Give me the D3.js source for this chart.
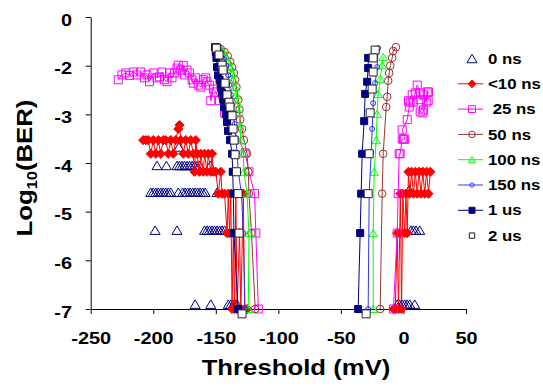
<!DOCTYPE html>
<html>
<head>
<meta charset="utf-8">
<script src="https://cdn.jsdelivr.net/npm/d3@7"></script>
<style>
body { margin: 0; background: #fff; }
text { font-family: Arial, "Liberation Sans", sans-serif; font-weight: bold; fill: #000; }
</style>
</head>
<body>
<div id="chart"></div>
<script>
// axis ticks
var xTicks = [-250, -200, -150, -100, -50, 0, 50];
var xTickLabels = ["-250", "-200", "-150", "-100", "-50", "0", "50"];
var yTicks = [-7, -6, -5, -4, -3, -2, -1];
var yTickLabels = ["-7", "-6", "-5", "-4", "-3", "-2", "0"];

var seriesNames = ["0 ns", "<10 ns", " 25 ns", "50 ns", "100 ns", "150 ns", "1 us", "2 us"];

// [threshold mV, log10 BER]  -- left and right branch of each curve
var ns0Left = [
  [-179.5, -3.67],
  [-197, -4.05], [-189.5, -4.05], [-181, -4.05], [-179, -4.05], [-177, -4.05], [-175, -4.05], [-173, -4.05],
  [-171, -4.05], [-169, -4.05], [-167, -4.05], [-165, -4.05], [-163, -4.05], [-154.5, -4.05],
  [-202, -4.6], [-200, -4.6], [-198, -4.6], [-196, -4.6], [-194, -4.6], [-192, -4.6], [-190, -4.6], [-188, -4.6],
  [-186, -4.6], [-180, -4.6], [-176.5, -4.6], [-174.5, -4.6], [-172.5, -4.6], [-170.5, -4.6], [-168.5, -4.6],
  [-166.5, -4.6], [-164.5, -4.6], [-162.5, -4.6], [-160.5, -4.6], [-158.5, -4.6], [-149, -4.6],
  [-198.5, -5.38], [-181, -5.38], [-159, -5.38], [-157, -5.38], [-155, -5.38], [-153, -5.38], [-151, -5.38],
  [-149, -5.38], [-147, -5.38], [-145, -5.38], [-143, -5.38],
  [-166.5, -6.9], [-154, -6.9], [-140, -6.9], [-138, -6.9], [-136, -6.9], [-134.5, -6.9], [-133, -6.9]
];
var ns0Right = [
  [4.6, -4.55], [6, -5.38], [8, -5.38], [10, -5.38], [13, -5.38],
  [-5, -6.9], [-3, -6.9], [-1, -6.9], [1, -6.9], [3, -6.9], [5, -6.9], [9, -6.9]
];

var lt10Left = [
  [-208, -3.53], [-206, -3.53], [-204, -3.53], [-202, -3.81], [-200, -3.53], [-198, -3.81], [-196, -3.53],
  [-194, -3.81], [-192, -3.53], [-190, -3.53], [-188, -3.81], [-186, -3.53], [-184, -3.81], [-182, -3.53],
  [-180, -3.3], [-179, -3.22], [-178, -3.53], [-176, -3.81], [-174, -3.53], [-172, -3.81], [-170, -3.53],
  [-168, -3.81], [-167, -4.18], [-166, -3.53], [-165, -3.81], [-163, -4.18], [-162, -3.81], [-160, -4.18],
  [-159, -3.81], [-157, -4.18], [-156, -3.81], [-154, -4.18], [-153, -3.81], [-152, -4.18], [-150, -4.18],
  [-148, -4.63], [-146, -4.18], [-145, -4.63], [-143, -4.63], [-141, -5.44], [-140, -4.63], [-139, -5.44],
  [-138, -4.63], [-137, -7], [-136, -5.44], [-135, -7], [-134, -4.63], [-133, -7], [-131, -5.44],
  [-130, -7], [-128, -4.63], [-127, -7], [-125, -7]
];
var lt10Right = [
  [-8, -7], [-6.5, -7], [-5, -5.44], [-4, -7], [-3, -5.44], [-2.5, -4.63], [-1.5, -7], [-0.5, -4.63],
  [1, -5.44], [2, -4.63], [3, -5.44], [4, -4.18], [5, -4.63], [6.5, -4.18], [8, -4.63], [9.5, -4.18],
  [11, -4.63], [12.5, -4.18], [14, -4.63], [15.5, -4.18], [17, -4.63], [18.5, -4.18], [20, -4.63], [21.5, -4.18]
];

var ns25Left = [
  [-228, -2.29], [-225, -2.19], [-222, -2.15], [-219, -2.2], [-216, -2.13], [-213, -2.19], [-210, -2.13],
  [-207, -2.25], [-205, -2.19], [-203, -2.33], [-200, -2.15], [-197, -2.25], [-195, -2.23], [-193, -2.13],
  [-191, -2.29], [-189, -2.33], [-187, -2.15], [-185, -2.25], [-183, -2.15], [-181, -2.05], [-180, -1.99],
  [-178, -2.09], [-176, -2.0], [-175, -2.19], [-173, -2.09], [-171, -2.15], [-169, -2.29], [-168, -2.36],
  [-166, -2.25], [-164, -2.4], [-162, -2.44], [-160, -2.29], [-158, -2.25], [-157, -2.33], [-155, -2.4],
  [-154, -2.72], [-152, -2.48], [-150, -2.54], [-147, -2.72], [-143, -2.97],
  [-126.5, -3.79], [-123.5, -4.18], [-119, -4.63], [-118, -5.44], [-116, -7]
];
var ns25Right = [
  [-8, -7], [-5, -5.44], [-4.2, -4.63], [-3.4, -3.81], [-2.6, -3.81], [-1, -3.51], [0, -3.51], [1, -3.51],
  [-1, -3.32], [3, -3.11], [4.6, -2.85], [5.4, -2.75], [4, -2.72], [7, -2.6], [7.8, -2.75], [9.4, -2.56],
  [11, -2.4], [13.4, -2.56], [13.4, -2.7], [15.8, -2.6], [18.2, -2.75], [19, -2.54], [19.8, -2.72],
  [16, -2.91], [15.5, -2.97], [13.4, -2.95], [20, -2.54]
];

var ns50Left = [
  [-148, -1.62], [-146, -1.66], [-143, -1.72], [-140.5, -1.8], [-138.5, -1.92], [-137, -2.03], [-135.5, -2.15],
  [-134.5, -2.29], [-133.5, -2.44], [-132, -2.7], [-131, -2.9], [-130.5, -3.11], [-129, -3.3], [-127.5, -3.53],
  [-125, -3.81], [-124, -4.18], [-123.5, -4.63], [-121.5, -5.44], [-118.5, -7]
];
var ns50Right = [
  [-6, -1.62], [-8.2, -1.7], [-9, -1.84], [-10.5, -2.0], [-11.4, -2.15], [-12.2, -2.31], [-13, -2.64],
  [-13.8, -2.85], [-16.2, -3.81], [-17, -4.63], [-18.6, -7]
];

var ns100Left = [
  [-147, -1.64], [-144.5, -1.7], [-142, -1.8], [-140, -1.9], [-138.5, -2.03], [-137, -2.15], [-136, -2.29],
  [-134.6, -2.44], [-133.5, -2.6], [-132.5, -2.78], [-131.5, -2.95], [-130.6, -3.24], [-130, -3.53],
  [-128, -3.81], [-127.5, -4.18], [-125, -4.63], [-123.5, -5.44], [-124, -7]
];
var ns100Right = [
  [-16.2, -1.82], [-17, -1.99], [-18.6, -2.27], [-20.2, -2.58], [-21, -2.99], [-21.8, -3.53],
  [-23.4, -4.18], [-24.2, -5.44], [-24.2, -7]
];

var ns150Left = [
  [-148, -1.64], [-146, -1.72], [-143.5, -1.86], [-141.5, -2.0], [-140, -2.2], [-139, -2.4], [-138, -2.6],
  [-137, -2.8], [-136.2, -2.97], [-135, -3.2], [-134, -3.5], [-133, -3.79], [-132, -4.18], [-129.5, -4.63],
  [-128, -5.44], [-126.6, -7]
];
var ns150Right = [
  [-20.2, -1.64], [-21, -2.03], [-22.6, -2.36], [-24.2, -2.77], [-25, -3.3], [-25.8, -3.79], [-27.4, -4.63], [-28.2, -7]
];

var us1Left = [
  [-150.6, -1.62], [-150, -1.72], [-149.5, -1.84], [-149, -2.03], [-148.2, -2.2], [-147, -2.29], [-146, -2.44],
  [-145, -2.56], [-144, -2.7], [-143.4, -2.85], [-142, -3.0], [-141, -3.16], [-140.2, -3.34], [-138.6, -3.53],
  [-137, -3.81], [-136.5, -4.18], [-136, -4.63], [-135.5, -5.44], [-132.2, -7]
];
var us1Right = [
  [-28.2, -1.84], [-28.2, -2.05], [-29, -2.33], [-30.6, -2.58], [-31.4, -3.14], [-33, -3.81], [-33.8, -4.63],
  [-34.6, -5.44], [-36.2, -7]
];

var us2Left = [
  [-149.6, -1.64], [-147.4, -1.78], [-145, -1.99], [-144.2, -2.09], [-142.6, -2.36], [-141, -2.6], [-139.4, -2.75],
  [-138.6, -2.85], [-137, -3.03], [-136.2, -3.3], [-135.4, -3.53], [-134.6, -3.83], [-133.5, -4.18],
  [-132.2, -4.63], [-131.4, -5.44], [-129, -7.1]
];
var us2Right = [
  [-22.6, -1.68], [-24.2, -1.84], [-24.2, -2.13], [-25, -2.48], [-26.6, -2.97], [-27.4, -3.81], [-28.2, -4.63], [-29.8, -7.1]
];

var width = 543;
var height = 386;
var sx = 1.17; // text in the original is stretched sideways

var series = [
  {name: seriesNames[0], parts: [ns0Left, ns0Right], color: "#000080", marker: "triangle", size: 5, fill: "none", line: false},
  {name: seriesNames[1], parts: [lt10Left, lt10Right], color: "#FF0000", marker: "diamond", size: 4.6, fill: "#FF0000", line: true},
  {name: seriesNames[2], parts: [ns25Left, ns25Right], color: "#FF00FF", marker: "square", size: 4, fill: "none", line: true},
  {name: seriesNames[3], parts: [ns50Left, ns50Right], color: "#993333", marker: "circle", size: 3.8, fill: "none", line: true},
  {name: seriesNames[4], parts: [ns100Left, ns100Right], color: "#00FF00", marker: "triangle", size: 4.2, fill: "none", line: true},
  {name: seriesNames[5], parts: [ns150Left, ns150Right], color: "#3333FF", marker: "circle", size: 2.5, fill: "none", line: true},
  {name: seriesNames[6], parts: [us1Left, us1Right], color: "#000080", marker: "square", size: 3.5, fill: "#000080", line: true},
  {name: seriesNames[7], parts: [us2Left, us2Right], color: "#222222", marker: "square", size: 4, fill: "#ffffff", line: false}
];

function markerPath(type, s) {
  if (type == "triangle") {
    var h = s * 0.85;
    return "M0," + (-h) + "L" + s + "," + h + "L" + (-s) + "," + h + "Z";
  }
  if (type == "diamond") return "M0," + (-s) + "L" + s + ",0L0," + s + "L" + (-s) + ",0Z";
  if (type == "square") return "M" + (-s) + "," + (-s) + "H" + s + "V" + s + "H" + (-s) + "Z";
  return "M" + s + ",0A" + s + "," + s + " 0 1 1 " + (-s) + ",0A" + s + "," + s + " 0 1 1 " + s + ",0Z";
}

var x = d3.scaleLinear().domain([-250, 50]).range([90.7, 466]);
var y = d3.scaleLinear().domain([-7, -1]).range([309, 17]);

var svg = d3.select("#chart").append("svg")
    .attr("width", width)
    .attr("height", height);

// axes
var xAxis = svg.append("g")
    .attr("transform", "translate(0," + y(-7) + ")")
    .call(d3.axisBottom(x).tickValues(xTicks).tickSize(5).tickSizeOuter(0).tickPadding(18)
      .tickFormat(function(d, i) { return xTickLabels[i]; }));
var yAxis = svg.append("g")
    .attr("transform", "translate(" + x(-250) + ",0)")
    .call(d3.axisLeft(y).tickValues(yTicks).tickSize(5).tickSizeOuter(0).tickPadding(11)
      .tickFormat(function(d, i) { return yTickLabels[i]; }));

svg.selectAll(".domain, .tick line").attr("stroke", "#000").attr("stroke-width", 1);
svg.selectAll(".tick text")
    .attr("font-family", "Arial, 'Liberation Sans', sans-serif")
    .attr("font-weight", "bold")
    .attr("font-size", 17)
    .attr("fill", "#000");
xAxis.selectAll(".tick text").attr("transform", "scale(" + sx + ",1)");
yAxis.selectAll(".tick text").attr("dy", "0.48em").attr("transform", "scale(" + sx + ",1)");

// series
var line = d3.line()
    .x(function(d) { return x(d[0]); })
    .y(function(d) { return y(d[1]); });

series.forEach(function(s) {
  var g = svg.append("g");
  if (s.line) {
    s.parts.forEach(function(p) {
      g.append("path")
          .attr("d", line(p))
          .attr("fill", "none")
          .attr("stroke", s.color)
          .attr("stroke-width", 1);
    });
  }
  s.parts.forEach(function(p) {
    g.selectAll(null)
        .data(p)
        .enter()
        .append("path")
        .attr("transform", function(d) { return "translate(" + x(d[0]) + "," + y(d[1]) + ")"; })
        .attr("d", markerPath(s.marker, s.size))
        .attr("fill", s.fill)
        .attr("stroke", s.color)
        .attr("stroke-width", 1);
  });
});

// axis titles
svg.append("text")
    .attr("transform", "translate(296,375) scale(" + sx + ",1)")
    .attr("text-anchor", "middle")
    .attr("font-size", 22)
    .text("Threshold (mV)");

var yt = svg.append("text")
    .attr("transform", "translate(32,168) rotate(-90) scale(" + sx + ",1)")
    .attr("text-anchor", "middle")
    .attr("font-size", 22);
yt.append("tspan").text("Log");
yt.append("tspan").attr("font-size", 14).attr("dy", 5).text("10");
yt.append("tspan").attr("dy", -5).text("(BER)");

// legend
var legendY0 = 58.5;
var legendStep = 25.3;
var legend = svg.selectAll(".legend")
    .data(series)
    .enter()
    .append("g")
    .attr("class", "legend")
    .attr("transform", function(d, i) { return "translate(472," + (legendY0 + i * legendStep) + ")"; });

legend.filter(function(d) { return d.line; })
    .append("line")
    .attr("x1", -14).attr("x2", 11)
    .attr("stroke", function(d) { return d.color; })
    .attr("stroke-width", 1);

legend.append("path")
    .attr("d", function(d, i) { return markerPath(d.marker, i == 0 ? 5 : (i == 7 ? 2.7 : d.size * 0.85)); })
    .attr("fill", function(d) { return d.fill; })
    .attr("stroke", function(d) { return d.color; });

legend.append("text")
    .attr("transform", "translate(16,0) scale(" + sx + ",1)")
    .attr("dy", "0.36em")
    .attr("font-size", 14.4)
    .style("white-space", "pre")
    .text(function(d) { return d.name; });
</script>
</body>
</html>
